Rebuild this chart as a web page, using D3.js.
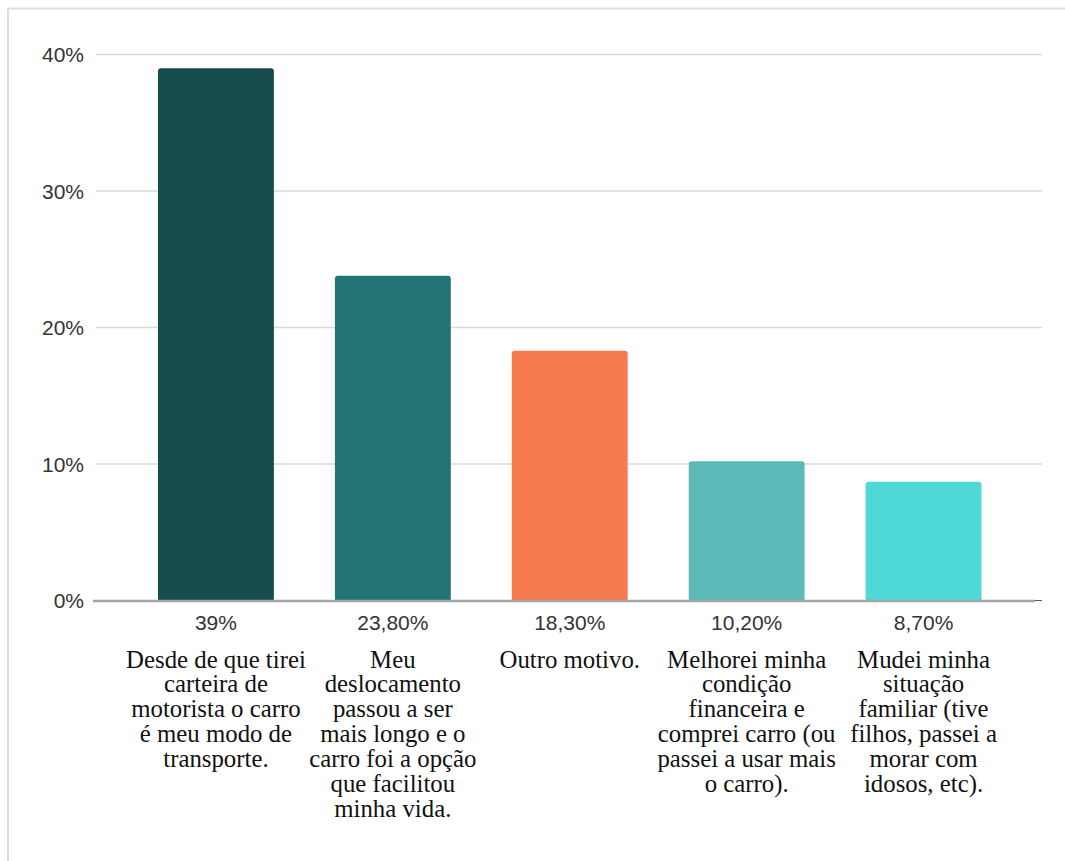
<!DOCTYPE html>
<html>
<head>
<meta charset="utf-8">
<script src="https://cdn.jsdelivr.net/npm/d3@7"></script>
<style>
  html, body { margin: 0; padding: 0; background: #fff; overflow: hidden; }
  svg { display: block; }
  .cat { font-family: "Liberation Serif", "DejaVu Serif", "Times New Roman", serif; }
  .num { font-family: "Liberation Sans", Arial, sans-serif; }
</style>
</head>
<body>
<div id="chart"></div>
<script>
// dados
const categories = ["c1", "c2", "c3", "c4", "c5"];
const values = [39, 23.8, 18.3, 10.2, 8.7];
const valueLabels = ["39%", "23,80%", "18,30%", "10,20%", "8,70%"];
const categoryLines = [
    ["Desde de que tirei", "carteira de", "motorista o carro", "é meu modo de", "transporte."],
    ["Meu", "deslocamento", "passou a ser", "mais longo e o", "carro foi a opção", "que facilitou", "minha vida."],
    ["Outro motivo."],
    ["Melhorei minha", "condição", "financeira e", "comprei carro (ou", "passei a usar mais", "o carro)."],
    ["Mudei minha", "situação", "familiar (tive", "filhos, passei a", "morar com", "idosos, etc)."]
];
const yTicks = [0, 10, 20, 30, 40];
const colors = ["#174c4b", "#237474", "#f77a4f", "#5bbab8", "#4ed9d8"];

const width = 1065;
const height = 861;

const svg = d3.select("#chart").append("svg")
    .attr("width", width)
    .attr("height", height);

// moldura cinza (só topo e esquerda aparecem)
svg.append("line")
    .attr("x1", 8).attr("x2", width)
    .attr("y1", 8.5).attr("y2", 8.5)
    .attr("stroke", "#dcdcdc")
    .attr("stroke-width", 2);
svg.append("line")
    .attr("x1", 8).attr("x2", 8)
    .attr("y1", 8.5).attr("y2", height)
    .attr("stroke", "#dcdcdc")
    .attr("stroke-width", 2);

const x = d3.scaleBand()
    .domain(categories)
    .range([127.5, 1012])
    .paddingInner(0.345)
    .paddingOuter(0.1725);

const y = d3.scaleLinear()
    .domain([0, 40])
    .range([600.5, 54.5]);

// linhas de grade
svg.append("g")
    .selectAll("line")
    .data(yTicks.filter(d => d > 0))
    .join("line")
        .attr("x1", 96)
        .attr("x2", 1042)
        .attr("y1", d => y(d))
        .attr("y2", d => y(d))
        .attr("stroke", "#d9d9d9")
        .attr("stroke-width", 1.5);

// rótulos do eixo y
svg.append("g")
    .selectAll("text")
    .data(yTicks)
    .join("text")
        .attr("class", "num")
        .attr("x", 84)
        .attr("y", d => y(d) + 7.5)
        .attr("text-anchor", "end")
        .attr("font-size", 21)
        .attr("fill", "#333")
        .text(d => d + "%");

// barras com cantos superiores arredondados
const r = 3;
svg.append("g")
    .selectAll("path")
    .data(values)
    .join("path")
        .attr("d", (d, i) => {
            const x0 = x(categories[i]), x1 = x0 + x.bandwidth();
            const y0 = y(d), yb = y(0);
            return `M${x0},${yb}V${y0 + r}Q${x0},${y0} ${x0 + r},${y0}H${x1 - r}Q${x1},${y0} ${x1},${y0 + r}V${yb}Z`;
        })
        .attr("fill", (d, i) => colors[i]);

// linha de base
svg.append("line")
    .attr("x1", 93)
    .attr("x2", 1035)
    .attr("y1", y(0) + 0.5)
    .attr("y2", y(0) + 0.5)
    .attr("stroke", "#a3a3a3")
    .attr("stroke-width", 2.5);
svg.append("line")
    .attr("x1", 1035)
    .attr("x2", 1042)
    .attr("y1", y(0))
    .attr("y2", y(0))
    .attr("stroke", "#555")
    .attr("stroke-width", 1);

// valores abaixo das barras
svg.append("g")
    .selectAll("text")
    .data(valueLabels)
    .join("text")
        .attr("class", "num")
        .attr("x", (d, i) => x(categories[i]) + x.bandwidth() / 2)
        .attr("y", 629.5)
        .attr("text-anchor", "middle")
        .attr("font-size", 21)
        .attr("fill", "#333")
        .text(d => d);

// rótulos das categorias (serifados, várias linhas)
svg.append("g")
    .selectAll("text")
    .data(categoryLines)
    .join("text")
        .attr("class", "cat")
        .attr("text-anchor", "middle")
        .attr("font-size", 24.8)
        .attr("fill", "#111")
    .selectAll("tspan")
    .data((d, i) => d.map(line => ({ line, i })))
    .join("tspan")
        .attr("x", d => x(categories[d.i]) + x.bandwidth() / 2)
        .attr("y", (d, j) => 667.5 + j * 24.9)
        .text(d => d.line);
</script>
</body>
</html>
